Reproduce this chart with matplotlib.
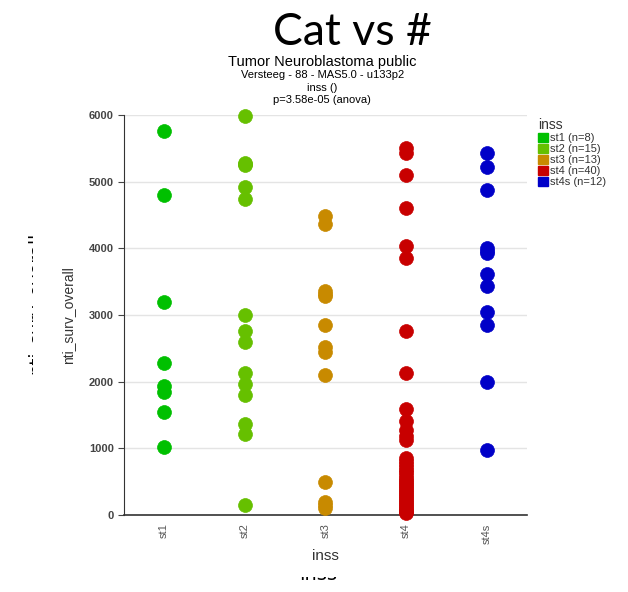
import matplotlib

matplotlib.use("Agg")
import matplotlib.pyplot as plt
from matplotlib.patches import Patch, Rectangle

plt.rcParams["font.family"] = ["Liberation Sans", "DejaVu Sans"]

# survival (days) per INSS stage
groups = ["st1", "st2", "st3", "st4", "st4s"]
colors = ["#00c000", "#66c000", "#c88a00", "#c80000", "#0000c8"]

st1 = [5760, 4800, 3190, 2275, 1935, 1845, 1545, 1015]
st2 = [5985, 5285, 5245, 5260, 4925, 4745, 3000, 2765, 2595, 2125, 1960,
       1795, 1365, 1210, 150]
st3 = [4490, 4360, 3365, 3285, 3320, 2850, 2515, 2445, 2100, 490, 190, 100,
       150]
st4 = [5500, 5425, 5100, 4600, 4035, 3860, 2760, 2125, 1585, 1410, 1275,
       1125, 1180, 850, 810, 760, 720, 680, 640, 600, 560, 530, 500, 470,
       440, 400, 370, 340, 310, 280, 250, 220, 190, 160, 130, 100, 80, 60,
       40, 25]
st4s = [5435, 5225, 4875, 4010, 3935, 3960, 3610, 3435, 3050, 2845, 1995,
        975]
values = [st1, st2, st3, st4, st4s]

yticks = [0, 1000, 2000, 3000, 4000, 5000, 6000]

fig = plt.figure(figsize=(6.28, 5.92), dpi=100)
fig.patch.set_facecolor("white")

# labels of the slide underneath, mostly hidden by the pasted chart
fig.text(0.043, 0.488, "nti_surv_overall", rotation=90, fontsize=13,
         ha="left", va="center", family="DejaVu Sans", zorder=0.5)
fig.text(0.507, 0.0203, "inss", fontsize=14, ha="center", va="baseline",
         family="DejaVu Sans", zorder=0.5)
fig.add_artist(Rectangle((0.0527, 0.0253), 0.96, 0.885,
                         transform=fig.transFigure, facecolor="white",
                         edgecolor="none", zorder=1))

fig.text(0.561, 0.945, "Cat vs #", fontsize=32, ha="center", va="center",
         family="Lato", zorder=3)

ax = fig.add_axes([0.197, 0.130, 0.642, 0.676])
ax.set_zorder(2)
ax.patch.set_alpha(0)

for i, (name, vals, col) in enumerate(zip(groups, values, colors)):
    ax.scatter([i] * len(vals), vals, s=100, color=col, edgecolor=col,
               linewidth=0.5, zorder=3, clip_on=False,
               label=f"{name} (n={len(vals)})")

ax.set_xlim(-0.5, len(groups) - 0.5)
ax.set_ylim(0, 6000)
ax.set_yticks(yticks)
ax.set_yticklabels([str(t) for t in yticks], color="#444444", fontsize=8,
                   fontweight="bold")
ax.set_xticks(range(len(groups)))
ax.set_xticklabels(groups, rotation=90, color="#555555", fontsize=8)
ax.tick_params(axis="x", length=0, pad=6)
ax.tick_params(axis="y", length=4, width=0.8, color="#444444", pad=3)
ax.grid(True, axis="y", color="#e4e4e4", linewidth=1)
ax.set_axisbelow(True)
for side in ["top", "right"]:
    ax.spines[side].set_visible(False)
ax.spines["left"].set_color("#333333")
ax.spines["bottom"].set_color("#333333")
ax.spines["bottom"].set_linewidth(1.2)

ax.set_xlabel("inss", fontsize=11, color="#333333", labelpad=4)
ax.set_ylabel("nti_surv_overall", fontsize=10, color="#333333", labelpad=10)

fig.text(0.513, 0.895, "Tumor Neuroblastoma public", fontsize=10.5,
         ha="center", va="center", zorder=3)
fig.text(0.513, 0.873, "Versteeg - 88 - MAS5.0 - u133p2", fontsize=8,
         ha="center", va="center", zorder=3)
fig.text(0.513, 0.852, "inss ()", fontsize=8, ha="center", va="center",
         zorder=3)
fig.text(0.513, 0.831, "p=3.58e-05 (anova)", fontsize=8, ha="center",
         va="center", zorder=3)

handles = [Patch(facecolor=c, edgecolor=c) for c in colors]
labels = [f"{g} (n={len(v)})" for g, v in zip(groups, values)]
leg = ax.legend(handles, labels, title="inss", loc="upper left",
                bbox_to_anchor=(0.848, 0.81), bbox_transform=fig.transFigure,
                frameon=False, fontsize=8, title_fontsize=10,
                handlelength=0.9, handleheight=0.9, handletextpad=0.2,
                labelspacing=0.05, borderpad=0, alignment="left")
for t in leg.get_texts():
    t.set_color("#333333")
leg.get_title().set_color("#333333")

fig.savefig("out.png", dpi=100)
